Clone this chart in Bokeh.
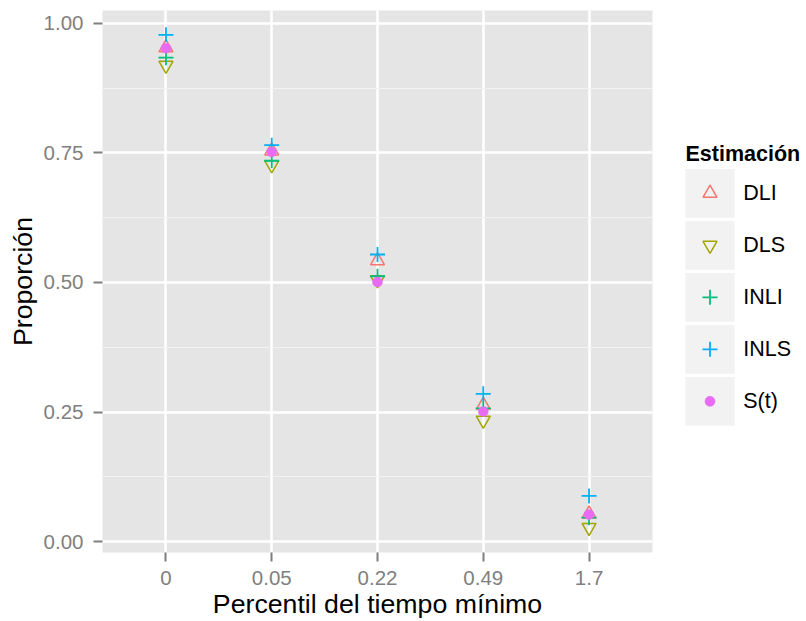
from bokeh.plotting import figure
from bokeh.models import Range1d, FixedTicker, NumeralTickFormatter
from bokeh.layouts import row
from bokeh.core.properties import value
from bokeh.embed import file_html
from bokeh.resources import INLINE

# ---- data ----
percentiles = ["0", "0.05", "0.22", "0.49", "1.7"]
dli = [0.953, 0.754, 0.542, 0.263, 0.053]
dls = [0.919, 0.727, 0.505, 0.234, 0.027]
inli = [0.934, 0.735, 0.512, 0.257, 0.046]
inls = [0.978, 0.765, 0.554, 0.285, 0.088]
st = [0.952, 0.752, 0.501, 0.251, 0.052]
series_names = ["DLI", "DLS", "INLI", "INLS", "S(t)"]
y_ticks = [0, 0.25, 0.5, 0.75, 1.0]
y_minor = [0.125, 0.375, 0.625, 0.875]

colors = ["#F8766D", "#A3A500", "#00BF7D", "#00B0F6", "#E76BF3"]
FONT = "Liberation Sans"

xs = list(range(len(percentiles)))

p = figure(width=670, height=621, output_backend="svg", toolbar_location=None,
           x_range=Range1d(-0.6, 4.6), y_range=Range1d(-0.0212, 1.025),
           min_border_left=102, min_border_right=18, min_border_top=10, min_border_bottom=67)
p.background_fill_color = "#E5E5E5"
p.border_fill_color = "white"
p.outline_line_color = None

# grid
p.xgrid.grid_line_color = "white"
p.xgrid.grid_line_width = 2.5
p.ygrid.grid_line_color = "white"
p.ygrid.grid_line_width = 2.5
p.ygrid.minor_grid_line_color = "#F2F2F2"
p.ygrid.minor_grid_line_width = 1.2

# axes
p.xaxis.ticker = FixedTicker(ticks=xs)
p.xaxis.major_label_overrides = {i: lab for i, lab in enumerate(percentiles)}
p.yaxis.ticker = FixedTicker(ticks=y_ticks, minor_ticks=y_minor)
p.yaxis.formatter = NumeralTickFormatter(format="0.00")
for ax in (p.xaxis, p.yaxis):
    ax.axis_line_color = None
    ax.major_tick_line_color = "#7F7F7F"
    ax.major_tick_line_width = 2
    ax.major_tick_out = 9
    ax.major_tick_in = 0
    ax.minor_tick_out = 0
    ax.minor_tick_in = 0
    ax.major_label_text_color = "#7F7F7F"
    ax.major_label_text_font = FONT
    ax.major_label_text_font_size = "20.5px"
    ax.axis_label_text_font = FONT
    ax.axis_label_text_font_size = "26.7px"
    ax.axis_label_text_font_style = "normal"
    ax.axis_label_text_color = "black"
p.xaxis.major_label_standoff = 9
p.xaxis.axis_label_standoff = 1
p.yaxis.major_label_standoff = 10
p.yaxis.axis_label_standoff = 3
p.xaxis.axis_label = "Percentil del tiempo mínimo"
p.yaxis.axis_label = "Proporción"

# marks
p.scatter(xs, dli, marker="triangle", size=14, fill_color=None, line_color=colors[0], line_width=1.5)
p.scatter(xs, dls, marker="inverted_triangle", size=14, fill_color=None, line_color=colors[1], line_width=1.5)
p.scatter(xs, inli, marker="cross", size=15, line_color=colors[2], line_width=1.8)
p.scatter(xs, inls, marker="cross", size=15, line_color=colors[3], line_width=1.8)
p.scatter(xs, st, marker="circle", size=10, fill_color=colors[4], line_color=colors[4], line_width=0.5)

# ---- legend as separate panel (frame aligned with main frame: y 10..554 in page pixels) ----
leg = figure(width=136, height=621, output_backend="svg", toolbar_location=None,
             x_range=Range1d(670, 806), y_range=Range1d(554, 10),
             x_axis_type=None, y_axis_type=None,
             min_border_left=0, min_border_right=0, min_border_top=10, min_border_bottom=67)
leg.grid.visible = False
leg.outline_line_color = None
leg.background_fill_color = "white"
leg.border_fill_color = "white"

key_x = 709.5
key_y = [193.5 + 52.2 * i for i in range(len(series_names))]
leg.rect(x=[key_x] * len(key_y), y=key_y, width=49, height=49, fill_color="#F2F2F2", line_color=None)
leg.text(x=[685], y=[154.3], text=["Estimación"], text_font=value(FONT), text_font_size="21.5px",
         text_font_style="bold", text_baseline="alphabetic", text_align="left", text_color="black")
leg.text(x=[742.7] * len(key_y), y=key_y, text=series_names, text_font=value(FONT),
         text_font_size="21.5px", text_baseline="middle", text_align="left", text_color="black")
leg.scatter([key_x], [key_y[0]], marker="triangle", size=14, fill_color=None, line_color=colors[0], line_width=1.5)
leg.scatter([key_x], [key_y[1]], marker="inverted_triangle", size=14, fill_color=None, line_color=colors[1], line_width=1.5)
leg.scatter([key_x], [key_y[2]], marker="cross", size=15, line_color=colors[2], line_width=1.8)
leg.scatter([key_x], [key_y[3]], marker="cross", size=15, line_color=colors[3], line_width=1.8)
leg.scatter([key_x], [key_y[4]], marker="circle", size=10, fill_color=colors[4], line_color=colors[4], line_width=0.5)

layout = row(p, leg)
open("out.html", "w").write(file_html(layout, INLINE))
